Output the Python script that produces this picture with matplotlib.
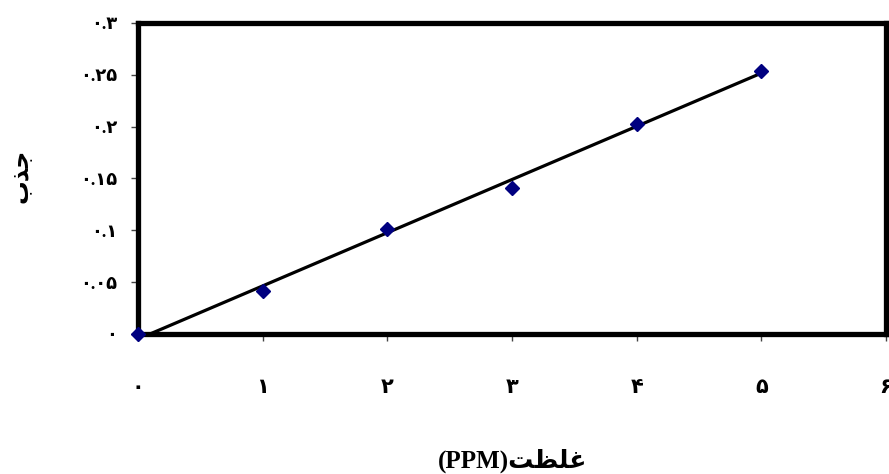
import numpy as np
import matplotlib
matplotlib.use("Agg")
import matplotlib.pyplot as plt
from matplotlib.ticker import FuncFormatter

# calibration data
conc = [0, 1, 2, 3, 4, 5]
absorb = [0.0, 0.041, 0.101, 0.141, 0.203, 0.254]

x_ticks = [0, 1, 2, 3, 4, 5, 6]
y_ticks = [0, 0.05, 0.1, 0.15, 0.2, 0.25, 0.3]

y_title = "جذب"
x_title = "غلظت"
x_unit = "(PPM)"

# contextual forms: isolated, final, initial, medial
FORMS = {
    "ج": ("\uFE9D", "\uFE9E", "\uFE9F", "\uFEA0"),
    "ذ": ("\uFEAB", "\uFEAC", None, None),
    "ب": ("\uFE8F", "\uFE90", "\uFE91", "\uFE92"),
    "غ": ("\uFECD", "\uFECE", "\uFECF", "\uFED0"),
    "ل": ("\uFEDD", "\uFEDE", "\uFEDF", "\uFEE0"),
    "ظ": ("\uFEC5", "\uFEC6", "\uFEC7", "\uFEC8"),
    "ت": ("\uFE95", "\uFE96", "\uFE97", "\uFE98"),
}


def shape(word):
    """join letters and flip for left-to-right drawing"""
    out = []
    for i, ch in enumerate(word):
        f = FORMS[ch]
        prev_joins = i > 0 and FORMS[word[i - 1]][2] is not None
        next_joins = i < len(word) - 1 and f[2] is not None
        if prev_joins and next_joins:
            out.append(f[3])
        elif prev_joins:
            out.append(f[1])
        elif next_joins:
            out.append(f[2])
        else:
            out.append(f[0])
    return "".join(reversed(out))


def fa_digits(v, pos=None):
    s = "%g" % v
    return s.translate(str.maketrans("0123456789", "۰۱۲۳۴۵۶۷۸۹"))


fam = ["Liberation Serif", "DejaVu Sans"]

fig = plt.figure(figsize=(8.89, 4.74), dpi=100)
ax = fig.add_axes([0.1552, 0.2954, 0.8414, 0.6561])

# least squares trend line, clipped at zero absorbance
k, b = np.polyfit(conc, absorb, 1)
x0 = -b / k if b < 0 else 0
xl = np.array([x0, conc[-1]])
ax.plot(xl, k * xl + b, color="black", lw=2.3, zorder=3)
ax.plot(conc, absorb, "D", color="#000080", ms=7, zorder=4, clip_on=False)

ax.set_xlim(0, 6)
ax.set_ylim(0, 0.3)
ax.set_xticks(x_ticks)
ax.set_yticks(y_ticks)
ax.xaxis.set_major_formatter(FuncFormatter(fa_digits))
ax.yaxis.set_major_formatter(FuncFormatter(fa_digits))
ax.tick_params(direction="out", length=5, width=1, color="#444444")
ax.tick_params(axis="x", pad=27, labelsize=15)
ax.tick_params(axis="y", pad=10, labelsize=13)
for lab in ax.get_xticklabels() + ax.get_yticklabels():
    lab.set_family(fam)
    lab.set_fontweight("bold")

for s in ax.spines.values():
    s.set_linewidth(3.8)
    s.set_color("black")

fig.text(0.025, 0.628, shape(y_title), rotation=90, ha="center", va="center",
         fontsize=17, fontweight="bold", family=fam)
fig.text(0.577, 0.027, x_unit + shape(x_title), ha="center", va="center",
         fontsize=18, fontweight="bold", family=fam)

fig.savefig("out.png", dpi=100)
